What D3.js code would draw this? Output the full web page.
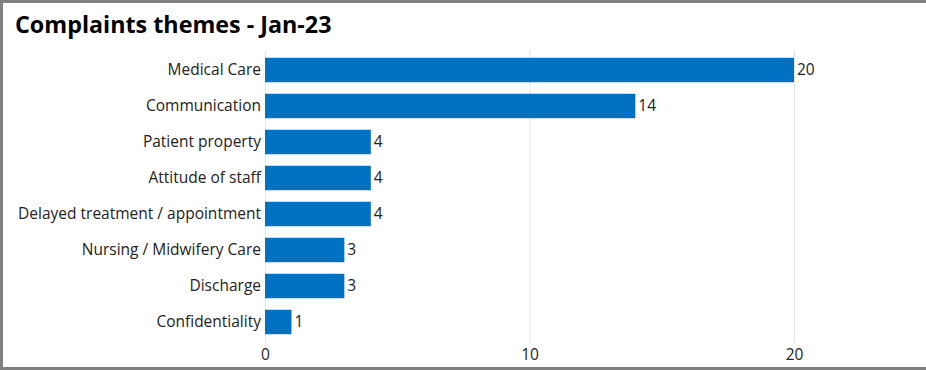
<!DOCTYPE html>
<html>
<head>
<meta charset="utf-8">
<script src="https://cdn.jsdelivr.net/npm/d3@7"></script>
<style>
  html, body { margin: 0; padding: 0; background: #fff; }
  svg { display: block; font-family: "Open Sans", "Noto Sans", sans-serif; }
</style>
</head>
<body>
<svg id="chart"></svg>
<script>
// 数据
const categories = ["Medical Care", "Communication", "Patient property", "Attitude of staff",
  "Delayed treatment / appointment", "Nursing / Midwifery Care", "Discharge", "Confidentiality"];
const values = [20, 14, 4, 4, 4, 3, 3, 1];
const xTicks = [0, 10, 20];
const title = "Complaints themes - Jan-23";

const width = 926;
const height = 370;
const margin = { top: 52, right: 2, bottom: 30, left: 265 };
const labelSize = 15.5;

const svg = d3.select("#chart")
  .attr("width", width)
  .attr("height", height);

// 边框
svg.append("rect")
  .attr("x", 1.5).attr("y", 1.5)
  .attr("width", width + 10).attr("height", height - 3)
  .attr("fill", "#fff")
  .attr("stroke", "#808080")
  .attr("stroke-width", 3);

svg.append("text")
  .attr("x", 15)
  .attr("y", 33)
  .attr("font-size", 23.3)
  .attr("font-weight", "bold")
  .attr("fill", "#000")
  .text(title);

// 比例尺
const x = d3.scaleLinear()
  .domain([0, 20 * (width - margin.right - margin.left) / (794 - 265)])
  .range([margin.left, width - margin.right]);

const y = d3.scaleBand()
  .domain(categories)
  .range([margin.top, height - margin.bottom])
  .paddingInner(0.32)
  .paddingOuter(0.16);

// 网格线
svg.append("g")
  .selectAll("line")
  .data(xTicks)
  .join("line")
  .attr("x1", d => x(d) + 0.5)
  .attr("x2", d => x(d) + 0.5)
  .attr("y1", 50)
  .attr("y2", 343)
  .attr("stroke", "#e3e3e3")
  .attr("stroke-width", 1);

// X 轴
const xAxis = svg.append("g")
  .attr("transform", `translate(0,343)`)
  .call(d3.axisBottom(x).tickValues(xTicks).tickSize(0).tickPadding(6));
xAxis.select(".domain").remove();
xAxis.selectAll("text")
  .attr("font-size", labelSize)
  .attr("font-family", "Open Sans, Noto Sans, sans-serif")
  .attr("fill", "#222");

// Y 轴
const yAxis = svg.append("g")
  .attr("transform", `translate(${margin.left},0)`)
  .call(d3.axisLeft(y).tickSize(0).tickPadding(4));
yAxis.select(".domain").remove();
yAxis.selectAll("text")
  .attr("font-size", labelSize)
  .attr("font-family", "Open Sans, Noto Sans, sans-serif")
  .attr("fill", "#222");

// 条形
svg.append("g")
  .selectAll("rect")
  .data(values)
  .join("rect")
  .attr("x", x(0))
  .attr("y", (d, i) => y(categories[i]))
  .attr("width", d => x(d) - x(0))
  .attr("height", y.bandwidth())
  .attr("fill", "#0070C0");

// 数据标签
svg.append("g")
  .selectAll("text")
  .data(values)
  .join("text")
  .attr("x", d => x(d) + 3)
  .attr("y", (d, i) => y(categories[i]) + y.bandwidth() / 2)
  .attr("dy", "0.35em")
  .attr("font-size", labelSize)
  .attr("fill", "#222")
  .text(d => d);
</script>
</body>
</html>
